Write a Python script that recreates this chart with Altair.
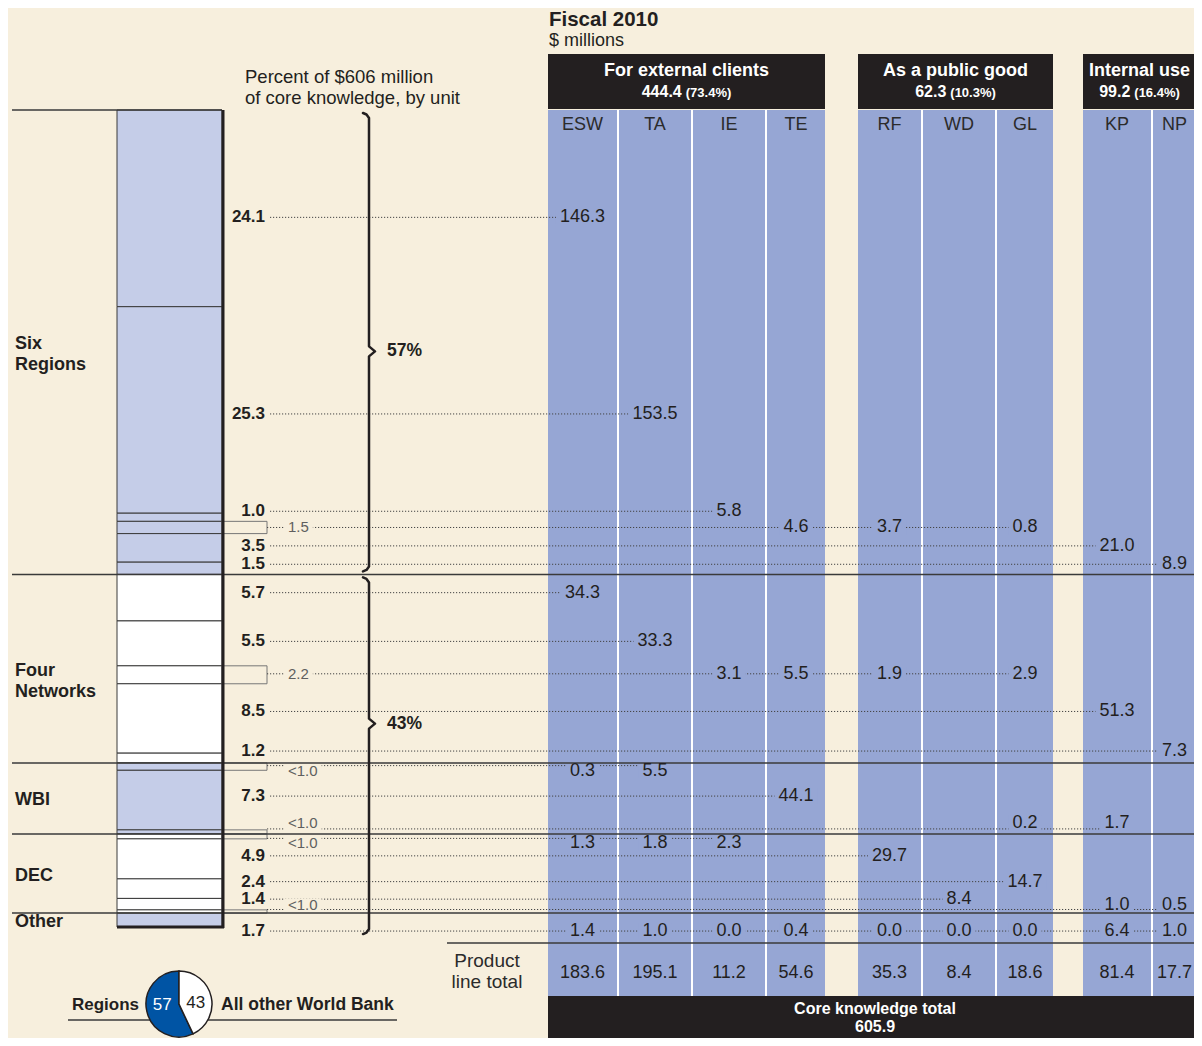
import math
import altair as alt
import pandas as pd

# ---------------- values ----------------
unit_labels = ["24.1", "25.3", "1.0", "1.5", "3.5", "1.5", "5.7", "5.5", "2.2", "8.5",
               "1.2", "<1.0", "7.3", "<1.0", "<1.0", "4.9", "2.4", "1.4", "<1.0", "1.7"]
unit_pct = [24.1, 25.3, 1.0, 1.5, 3.5, 1.5, 5.7, 5.5, 2.2, 8.5,
            1.2, 0.9, 7.3, 0.5, 0.6, 4.9, 2.4, 1.4, 0.4, 1.7]
unit_group = (["Six Regions"] * 6 + ["Four Networks"] * 5 + ["WBI"] * 3
              + ["DEC"] * 5 + ["Other"])
unit_small = [False, False, False, True, False, False, False, False, True, False,
              False, True, False, True, True, False, False, False, True, False]

group_order = ["Six Regions", "Four Networks", "WBI", "DEC", "Other"]
group_text = ["Six\nRegions", "Four\nNetworks", "WBI", "DEC", "Other"]
group_shaded = [True, False, True, False, True]

bracket_text = ["57%", "43%"]
bracket_groups = [["Six Regions"], ["Four Networks", "WBI", "DEC", "Other"]]

family_names = ["For external clients", "As a public good", "Internal use"]
family_total = [444.4, 62.3, 99.2]
family_share = [73.4, 10.3, 16.4]

product_lines = ["ESW", "TA", "IE", "TE", "RF", "WD", "GL", "KP", "NP"]
product_family = [0, 0, 0, 0, 1, 1, 1, 2, 2]
product_total = [183.6, 195.1, 11.2, 54.6, 35.3, 8.4, 18.6, 81.4, 17.7]
core_total = 605.9

# (unit row, $ millions)
cells_ESW = [(0, 146.3), (6, 34.3), (11, 0.3), (14, 1.3), (19, 1.4)]
cells_TA = [(1, 153.5), (7, 33.3), (11, 5.5), (14, 1.8), (19, 1.0)]
cells_IE = [(2, 5.8), (8, 3.1), (14, 2.3), (19, 0.0)]
cells_TE = [(3, 4.6), (8, 5.5), (12, 44.1), (19, 0.4)]
cells_RF = [(3, 3.7), (8, 1.9), (15, 29.7), (19, 0.0)]
cells_WD = [(17, 8.4), (19, 0.0)]
cells_GL = [(3, 0.8), (8, 2.9), (13, 0.2), (16, 14.7), (19, 0.0)]
cells_KP = [(4, 21.0), (9, 51.3), (13, 1.7), (18, 1.0), (19, 6.4)]
cells_NP = [(5, 8.9), (10, 7.3), (18, 0.5), (19, 1.0)]
cells = [cells_ESW, cells_TA, cells_IE, cells_TE, cells_RF, cells_WD, cells_GL, cells_KP, cells_NP]

pie_names = ["Regions", "All other World Bank"]
pie_share = [57, 43]

# ---------------- layout & style ----------------
BG = "#f7efdd"
DARK = "#231f20"
COLBLUE = "#96a6d4"
LIGHT = "#c5cde8"
PIEBLUE = "#0054a4"
GREY = "#5f5f5f"
FONT = "Liberation Sans"

W, H, M = 1186, 1030, 8
XS = alt.Scale(domain=[M, M + W], nice=False, zero=False, clamp=True)
YS = alt.Scale(domain=[M + H, M], nice=False, zero=False, clamp=True)


def X(f):
    return alt.X(f, type="quantitative", scale=XS, axis=None)


def Y(f):
    return alt.Y(f, type="quantitative", scale=YS, axis=None)


BAR_L, BAR_R, BAR_T, BAR_B = 117, 222, 110, 927
row_nudge = [9, 4, -6, 0, -2, -4, -5, -2, -1, -7, -7, -1, -4, -3, 2, -3, -7, -5, -2, 11]
text_shift = [0] * 20
text_shift[11], text_shift[13], text_shift[14], text_shift[18] = 5, -6, 5, -4

col_left = [548, 619, 693, 767, 858, 923, 997, 1083, 1153]
col_right = [617, 691, 765, 825, 921, 995, 1053, 1151, 1196]
fam_extra_right = [0, 0, 20]   # last family runs off the page
COL_T, COL_B = 110, 996
HEAD_T, HEAD_B = 54, 109


def tw(s, fs):
    w = 0.0
    for ch in s:
        if ch.isdigit():
            w += 0.556
        elif ch == ".":
            w += 0.278
        elif ch in "()":
            w += 0.333
        elif ch == "%":
            w += 0.889
        elif ch == " ":
            w += 0.278
        else:
            w += 0.584
    return w * fs


# ---------------- derived geometry ----------------
k = (BAR_B - BAR_T) / sum(unit_pct)
tops, bots = [], []
c = 0.0
for p in unit_pct:
    tops.append(BAR_T + c * k)
    c += p
    bots.append(BAR_T + c * k)
row_y = [(t + b) / 2 + n for t, b, n in zip(tops, bots, row_nudge)]
txt_y = [y + s for y, s in zip(row_y, text_shift)]

g_top = {g: min(t for t, gg in zip(tops, unit_group) if gg == g) for g in group_order}
g_bot = {g: max(b for b, gg in zip(bots, unit_group) if gg == g) for g in group_order}

col_c = [(l + r) / 2 for l, r in zip(col_left, col_right)]
fam_l = [min(col_left[i] for i in range(9) if product_family[i] == f) for f in range(3)]
fam_r = [max(col_right[i] for i in range(9) if product_family[i] == f) + fam_extra_right[f] for f in range(3)]
fam_c = [(fam_l[f] + min(fam_r[f], 1196)) / 2 for f in range(3)]

layers = []

# white background of families (gives white column gaps) and blue columns
rects = []
for f in range(3):
    rects.append(dict(x=fam_l[f], x2=fam_r[f], y=COL_T, y2=COL_B, fill="white"))
for i in range(9):
    rr_ = col_right[i] + (20 if i == 8 else 0)
    rects.append(dict(x=col_left[i], x2=rr_, y=COL_T, y2=COL_B, fill=COLBLUE))
for f in range(3):
    rects.append(dict(x=fam_l[f], x2=fam_r[f], y=HEAD_T, y2=HEAD_B, fill=DARK))
rects.append(dict(x=fam_l[0], x2=fam_r[2], y=COL_B, y2=M + H + 20, fill=DARK))
layers.append(alt.Chart(pd.DataFrame(rects)).mark_rect().encode(
    x=X("x"), x2="x2", y=Y("y"), y2="y2", color=alt.Color("fill:N", scale=None)))

# stacked unit bar
bar = pd.DataFrame(dict(
    x=BAR_L, x2=BAR_R, y=tops, y2=bots,
    fill=[LIGHT if group_shaded[group_order.index(g)] else "white" for g in unit_group]))
layers.append(alt.Chart(bar).mark_rect(stroke="#3a3a3a", strokeWidth=1).encode(
    x=X("x"), x2="x2", y=Y("y"), y2="y2", color=alt.Color("fill:N", scale=None)))

# call-out boxes for tiny units
box = pd.DataFrame([dict(x=BAR_R, x2=267, y=tops[i], y2=bots[i])
                    for i in range(len(unit_pct)) if unit_small[i]])
layers.append(alt.Chart(box).mark_rect(fillOpacity=0, stroke="#777777", strokeWidth=1).encode(
    x=X("x"), x2="x2", y=Y("y"), y2="y2"))

# dotted leader lines
row_last = {}
for ci, lst in enumerate(cells):
    for r, v in lst:
        row_last[r] = max(row_last.get(r, 0), col_c[ci])
dots = pd.DataFrame([dict(x=(267 if unit_small[i] else 270), x2=row_last[i], y=row_y[i])
                     for i in range(len(unit_pct))])
layers.append(alt.Chart(dots).mark_rule(color="#444444", strokeWidth=1, strokeDash=[1.2, 1.8]).encode(
    x=X("x"), x2="x2", y=Y("y")))

# masks behind labels so the dotted lines break around text
VFS = 18
masks = []
for i in range(len(unit_pct)):
    if unit_small[i]:
        w = tw(unit_labels[i], 15)
        masks.append(dict(x=284, x2=292 + w, y=txt_y[i] - 7, y2=txt_y[i] + 7, fill=BG))
vals = []
for ci, lst in enumerate(cells):
    for r, v in lst:
        s = f"{v:.1f}"
        w = tw(s, VFS)
        masks.append(dict(x=col_c[ci] - w / 2 - 4, x2=col_c[ci] + w / 2 + 4,
                          y=txt_y[r] - 7.5, y2=txt_y[r] + 7.5, fill=COLBLUE))
        vals.append(dict(x=col_c[ci], y=txt_y[r], t=s))
layers.append(alt.Chart(pd.DataFrame(masks)).mark_rect().encode(
    x=X("x"), x2="x2", y=Y("y"), y2="y2", color=alt.Color("fill:N", scale=None)))

# solid separators
sep = [dict(x=12, x2=BAR_R, y=BAR_T)]
for g in group_order[:-1]:
    sep.append(dict(x=12, x2=1212, y=g_bot[g]))
sep.append(dict(x=447, x2=1212, y=BAR_B + 16))
layers.append(alt.Chart(pd.DataFrame(sep)).mark_rule(color="#3a3a3a", strokeWidth=1.5).encode(
    x=X("x"), x2="x2", y=Y("y")))

# thick bar edges
edges = pd.DataFrame([dict(x=BAR_R + 1, x2=BAR_R + 1, y=BAR_T, y2=BAR_B + 1),
                      dict(x=BAR_L, x2=BAR_R + 2, y=BAR_B, y2=BAR_B)])
layers.append(alt.Chart(edges).mark_rule(color=DARK, strokeWidth=3).encode(
    x=X("x"), x2="x2", y=Y("y"), y2="y2"))


def text_layer(rows, size, weight="normal", color=DARK, align="center", baseline="middle", **kw):
    return alt.Chart(pd.DataFrame(rows)).mark_text(
        font=FONT, fontSize=size, fontWeight=weight, color=color, align=align,
        baseline=baseline, **kw).encode(x=X("x"), y=Y("y"), text="t:N")


# unit labels
layers.append(text_layer([dict(x=265, y=txt_y[i], t=unit_labels[i])
                          for i in range(len(unit_pct)) if not unit_small[i]],
                         17, "bold", align="right"))
layers.append(text_layer([dict(x=288, y=txt_y[i], t=unit_labels[i])
                          for i in range(len(unit_pct)) if unit_small[i]],
                         15, color=GREY, align="left"))
# group labels
layers.append(text_layer([dict(x=15, y=(g_top[g] + g_bot[g]) / 2 - 7, t=group_text[j])
                          for j, g in enumerate(group_order)],
                         18, "bold", align="left", baseline="top", lineBreak="\n", lineHeight=21))
# cell values
layers.append(text_layer(vals, VFS))
# column headers
layers.append(text_layer([dict(x=col_c[i], y=125, t=product_lines[i]) for i in range(9)], 18, color="#2b2b2b"))
# family headers
layers.append(text_layer([dict(x=fam_c[f], y=71, t=family_names[f]) for f in range(3)],
                         18, "bold", color="white"))
num_rows, pct_rows = [], []
for f in range(3):
    ns = f"{family_total[f]:.1f}"
    ps = f"({family_share[f]:.1f}%)"
    wn, wp = tw(ns, 16), tw(ps, 13)
    x0 = fam_c[f] - (wn + 4 + wp) / 2
    num_rows.append(dict(x=x0 + wn, y=92, t=ns))
    pct_rows.append(dict(x=x0 + wn + 4, y=92.5, t=ps))
layers.append(text_layer(num_rows, 16, "bold", color="white", align="right"))
layers.append(text_layer(pct_rows, 13, "bold", color="white", align="left"))
# product totals
layers.append(text_layer([dict(x=col_c[i], y=BAR_B + 46, t=f"{product_total[i]:.1f}") for i in range(9)], VFS))
layers.append(text_layer([dict(x=487, y=BAR_B + 34, t="Product"), dict(x=487, y=BAR_B + 55, t="line total")],
                         19, color="#2b2b2b"))
# core total
cx_core = (fam_l[0] + 1202) / 2
layers.append(text_layer([dict(x=cx_core, y=COL_B + 13, t="Core knowledge total"),
                          dict(x=cx_core, y=COL_B + 31, t=f"{core_total:.1f}")], 16, "bold", color="white"))
# titles
layers.append(text_layer([dict(x=549, y=20, t="Fiscal 2010")], 20.5, "bold", align="left"))
layers.append(text_layer([dict(x=549, y=41, t="$ millions")], 18, align="left"))
layers.append(text_layer([dict(x=245, y=77, t="Percent of $606 million"),
                          dict(x=245, y=98, t="of core knowledge, by unit")], 18.5, align="left"))

# braces
brace_pts = []
pointer_frac = [0.52, 0.41]
XV = 369
for b, gs in enumerate(bracket_groups):
    yt = g_top[gs[0]] + 3
    last = max(i for i, g in enumerate(unit_group) if g == gs[-1])
    yb = max(g_bot[gs[-1]], row_y[last] + 6) - 3
    yp = yt + pointer_frac[b] * (yb - yt)
    pts = [(XV - 6, yt), (XV - 2.5, yt + 1.5), (XV, yt + 5), (XV, yp - 5), (XV + 6, yp),
           (XV, yp + 5), (XV, yb - 5), (XV - 2.5, yb - 1.5), (XV - 6, yb)]
    for j, (px, py) in enumerate(pts):
        brace_pts.append(dict(x=px, y=py, o=j, b=b))
    layers.append(text_layer([dict(x=387, y=yp, t=bracket_text[b])], 17.5, "bold", align="left"))
layers.append(alt.Chart(pd.DataFrame(brace_pts)).mark_line(
    color=DARK, strokeWidth=2.5, strokeJoin="round", strokeCap="round").encode(
    x=X("x"), y=Y("y"), order="o:Q", detail="b:N"))

# pie legend
PCX, PCY, PR = 179, 1004, 33
layers.append(alt.Chart(pd.DataFrame([dict(x=68, x2=397, y=1020)])).mark_rule(
    color="#3a3a3a", strokeWidth=1.5).encode(x=X("x"), x2="x2", y=Y("y")))
tot = sum(pie_share)
end_white = pie_share[1] / tot
pie = pd.DataFrame([
    dict(x=PCX, y=PCY, t0=2 * math.pi * end_white, t1=2 * math.pi, fill=PIEBLUE),
    dict(x=PCX, y=PCY, t0=0.0, t1=2 * math.pi * end_white, fill="white"),
])
layers.append(alt.Chart(pie).mark_arc(outerRadius=PR, stroke=DARK, strokeWidth=1.5).encode(
    x=X("x"), y=Y("y"), theta=alt.Theta("t0:Q", scale=None), theta2=alt.Theta2("t1:Q"),
    color=alt.Color("fill:N", scale=None)))
a_blue = math.pi * (end_white + 1)
a_white = math.pi * end_white
rr = PR * 0.52
layers.append(text_layer([dict(x=PCX + rr * math.sin(a_blue), y=PCY - rr * math.cos(a_blue) - 3,
                               t=str(pie_share[0]))], 17, color="white"))
layers.append(text_layer([dict(x=PCX + rr * math.sin(a_white), y=PCY - rr * math.cos(a_white) + 3,
                               t=str(pie_share[1]))], 17))
layers.append(text_layer([dict(x=PCX - PR - 7, y=1005, t=pie_names[0])], 17, "bold", align="right"))
layers.append(text_layer([dict(x=PCX + PR + 9, y=1005, t=pie_names[1])], 17.5, "bold", align="left"))

chart = alt.layer(*layers).properties(
    width=W, height=H, background=BG, padding=0,
    autosize=alt.AutoSizeParams(type="none"),
).configure_view(strokeWidth=0)

chart.save("out.html", embed_options={"renderer": "svg", "actions": False})
